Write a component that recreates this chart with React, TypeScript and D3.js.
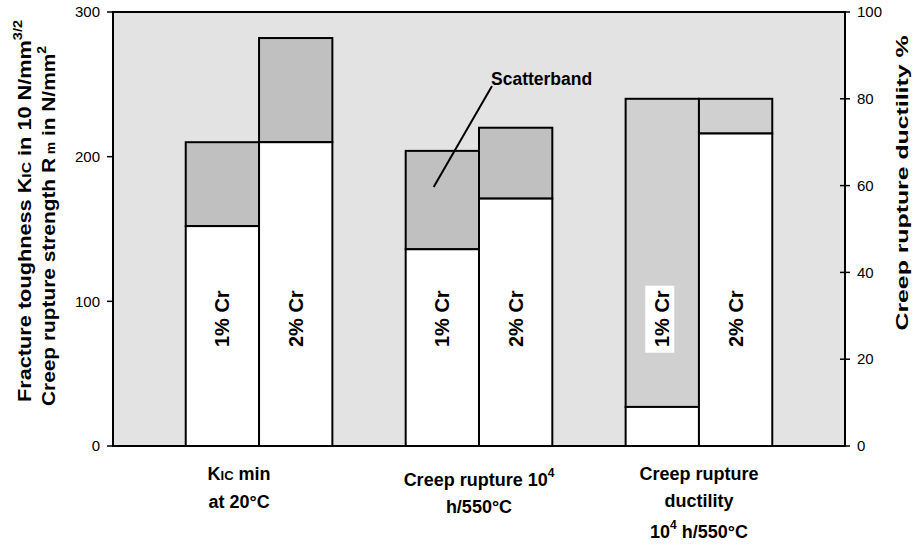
import React from 'react';
import * as d3 from 'd3';

// Groups along the x axis
const groups = ['kic', 'creep', 'ductility'];
const alloys = ['1% Cr', '2% Cr'];

// lower value = white part, upper value = top of the scatterband
// kic / creep are read on the left axis, ductility on the right axis (%)
const lowerKic = [152, 210];
const upperKic = [210, 282];
const lowerCreep = [136, 171];
const upperCreep = [204, 220];
const lowerDuct = [9, 72];
const upperDuct = [80, 80];

const leftTicks = [0, 100, 200, 300];
const rightTicks = [0, 20, 40, 60, 80, 100];

const W = 918;
const H = 554;
const margin = { top: 12, right: 73, bottom: 108, left: 113 };
const FONT = 'Liberation Sans, Arial, Helvetica, sans-serif';

export default function App() {
  const innerW = W - margin.left - margin.right;
  const innerH = H - margin.top - margin.bottom;

  const x0 = d3.scaleBand().domain(groups).range([0, innerW]).paddingInner(0).paddingOuter(0.164);
  const x1 = d3.scaleBand().domain(alloys).range([0, x0.bandwidth()]).paddingInner(0).paddingOuter(0.5);
  const yL = d3.scaleLinear().domain([0, 300]).range([innerH, 0]);
  const yR = d3.scaleLinear().domain([0, 100]).range([innerH, 0]);

  const series = [
    { g: 'kic', lower: lowerKic, upper: upperKic, y: yL, band: '#c0c0c0' },
    { g: 'creep', lower: lowerCreep, upper: upperCreep, y: yL, band: '#c0c0c0' },
    { g: 'ductility', lower: lowerDuct, upper: upperDuct, y: yR, band: '#d0d0d0' },
  ];

  const labelY = yL(88);
  const bw = x1.bandwidth();

  const bars = series.flatMap((s) =>
    alloys.map((a, i) => {
      const bx = (x0(s.g) as number) + (x1(a) as number);
      return (
        <g key={s.g + a}>
          <rect x={bx} y={s.y(s.upper[i])} width={bw} height={s.y(s.lower[i]) - s.y(s.upper[i])}
            fill={s.band} stroke="#000" strokeWidth={2} />
          <rect x={bx} y={s.y(s.lower[i])} width={bw} height={innerH - s.y(s.lower[i])}
            fill="#fff" stroke="#000" strokeWidth={2} />
          {s.g === 'ductility' && i === 0 && (
            <rect x={bx + bw / 2 - 17} y={labelY - 33} width={29} height={67} fill="#fff" />
          )}
          <text transform={`translate(${bx + bw / 2},${labelY}) rotate(-90)`} textAnchor="middle"
            dominantBaseline="central" fontSize={20} fontWeight="bold" fontFamily={FONT}>{a}</text>
        </g>
      );
    })
  );

  const cx = (g: string) => (x0(g) as number) + x0.bandwidth() / 2;
  const scatterEnd = { x: (x0('creep') as number) + (x1('1% Cr') as number) + 28, y: yL(179) };

  return (
    <div style={{ position: 'absolute', left: 0, top: 0 }}>
      <svg width={W} height={H} style={{ display: 'block' }}>
        <g transform={`translate(${margin.left},${margin.top})`}>
          <rect x={0} y={0} width={innerW} height={innerH} fill="#e3e3e3" />
          {bars}
          {/* frame */}
          <rect x={0} y={0} width={innerW} height={innerH} fill="none" stroke="#000" strokeWidth={2} />

          {/* left axis */}
          {leftTicks.map((t) => (
            <g key={'l' + t} transform={`translate(0,${yL(t)})`}>
              <line x1={-6} x2={0} stroke="#000" strokeWidth={1.5} />
              <text x={-13} dy="0.35em" textAnchor="end" fontSize={15} fontFamily={FONT}>{t}</text>
            </g>
          ))}
          {/* right axis */}
          {rightTicks.map((t) => (
            <g key={'r' + t} transform={`translate(${innerW},${yR(t)})`}>
              <line x1={-5} x2={5} stroke="#000" strokeWidth={1.5} />
              <text x={12} dy="0.35em" textAnchor="start" fontSize={15} fontFamily={FONT}>{t}</text>
            </g>
          ))}

          {/* scatterband annotation */}
          <line x1={492 - margin.left} y1={86 - margin.top} x2={scatterEnd.x} y2={scatterEnd.y}
            stroke="#000" strokeWidth={2} />
          <text x={491 - margin.left} y={85 - margin.top} fontSize={17.5} fontWeight="bold" fontFamily={FONT}>Scatterband</text>

          {/* category labels */}
          <g fontSize={18} fontWeight="bold" fontFamily={FONT} textAnchor="middle">
            <text x={cx('kic') - 20} y={innerH + 34}>K<tspan fontSize={13}>IC</tspan> min</text>
            <text x={cx('kic') - 20} y={innerH + 62}>at 20°C</text>
            <text x={cx('creep')} y={innerH + 40}>Creep rupture 10<tspan fontSize={12} dy={-9}>4</tspan></text>
            <text x={cx('creep')} y={innerH + 67}>h/550°C</text>
            <text x={cx('ductility')} y={innerH + 34}>Creep rupture</text>
            <text x={cx('ductility')} y={innerH + 61}>ductility</text>
            <text x={cx('ductility')} y={innerH + 92}>10<tspan fontSize={12} dy={-9}>4</tspan><tspan dy={9}> h/550°C</tspan></text>
          </g>
        </g>

        {/* axis titles */}
        <g fontWeight="bold" fontFamily={FONT} textAnchor="middle">
          <text transform={`translate(31,211) rotate(-90)`} fontSize={18} textLength={382} lengthAdjust="spacingAndGlyphs">
            Fracture toughness K<tspan fontSize={13}>IC</tspan> in 10 N/mm<tspan fontSize={12} dy={-9}>3/2</tspan>
          </text>
          <text transform={`translate(55,226) rotate(-90)`} fontSize={18} textLength={360} lengthAdjust="spacingAndGlyphs">
            Creep rupture strength R<tspan fontSize={12}> m</tspan> in N/mm<tspan fontSize={12} dy={-9}>2</tspan>
          </text>
          <text transform={`translate(908,183) rotate(-90)`} fontSize={17} textLength={295} lengthAdjust="spacingAndGlyphs">Creep rupture ductility %</text>
        </g>
      </svg>
    </div>
  );
}
